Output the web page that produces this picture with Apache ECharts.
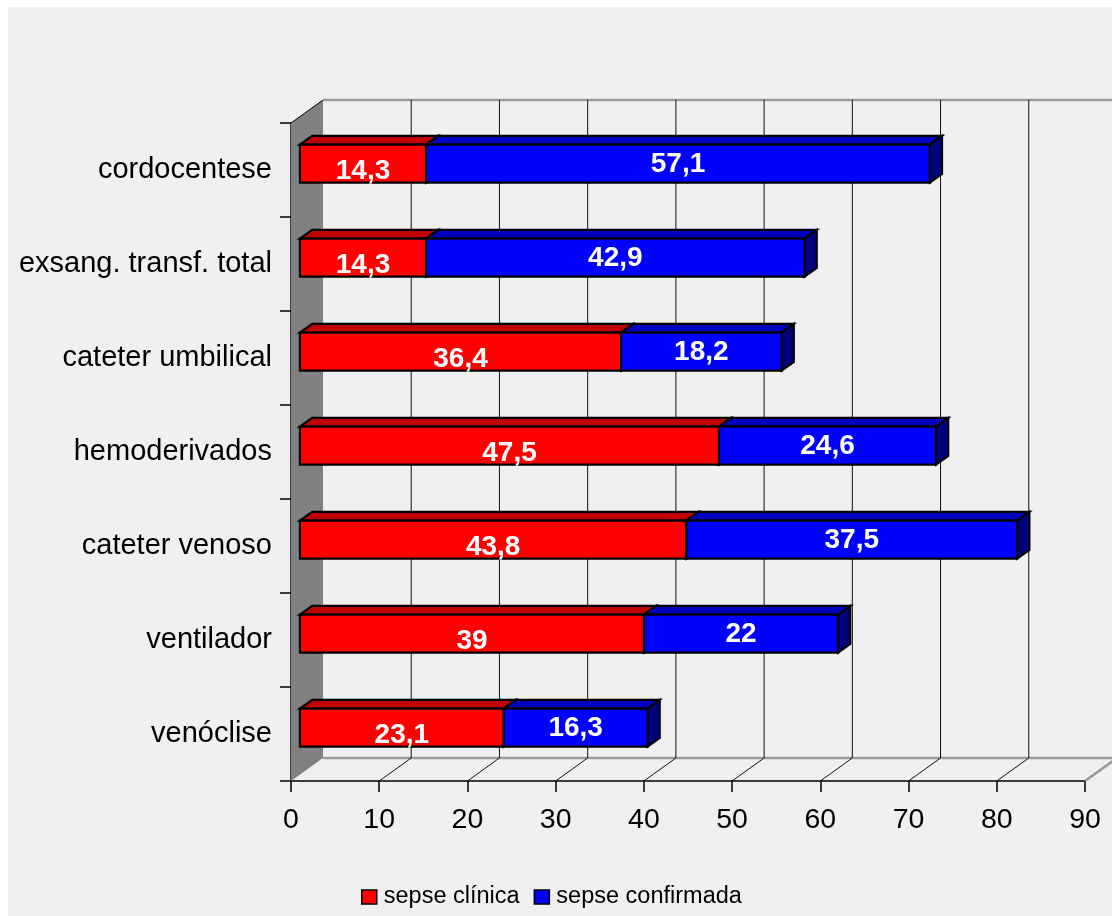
<!DOCTYPE html>
<html>
<head>
<meta charset="utf-8">
<title>Sepse por procedimento</title>
<script src="https://cdn.jsdelivr.net/npm/echarts@6/dist/echarts.min.js"></script>
<style>
  html, body { margin: 0; padding: 0; background: #ffffff; }
  #chart { width: 1112px; height: 916px; }
</style>
</head>
<body>
<div id="chart"></div>
<script>
// Procedures, top to bottom
const categories = [
  'cordocentese',
  'exsang. transf. total',
  'cateter umbilical',
  'hemoderivados',
  'cateter venoso',
  'ventilador',
  'venóclise'
];
// Percentages per procedure
const sepseClinica = [14.3, 14.3, 36.4, 47.5, 43.8, 39, 23.1];
const sepseConfirmada = [57.1, 42.9, 18.2, 24.6, 37.5, 22, 16.3];
// Value-axis ticks
const valueTicks = [0, 10, 20, 30, 40, 50, 60, 70, 80, 90];

const FONT = "'Liberation Sans', Arial, Helvetica, sans-serif";
// Depth of the box (pixels) and where the bars sit inside it
const DEPTH = { x: 32, y: -23 };
const BAR_FRONT = 0.28;
const BAR_BACK = 0.66;
const BAR_RATIO = 0.405;

const fmt = v => String(v).replace('.', ',');

function makeBarRenderer(face, top, side, labelDy) {
  return function (params, api) {
    const cat = api.value(0);
    const start = api.value(1);
    const end = api.value(2);
    const shown = api.value(3);
    const p0 = api.coord([start, cat]);
    const p1 = api.coord([end, cat]);
    const h = api.size([0, 1])[1] * BAR_RATIO;
    const fx = DEPTH.x * BAR_FRONT, fy = DEPTH.y * BAR_FRONT;
    const bx = DEPTH.x * BAR_BACK, by = DEPTH.y * BAR_BACK;
    const x0 = p0[0] + fx, x1 = p1[0] + fx;
    const yT = p0[1] + fy - h / 2;
    const dx = bx - fx, dy = by - fy;
    const stroke = { stroke: '#000', lineWidth: 2.2, lineJoin: 'miter' };
    return {
      type: 'group',
      children: [
        {
          type: 'polygon',
          shape: { points: [[x0, yT], [x1, yT], [x1 + dx, yT + dy], [x0 + dx, yT + dy]] },
          style: Object.assign({ fill: top }, stroke)
        },
        {
          type: 'polygon',
          shape: { points: [[x1, yT], [x1 + dx, yT + dy], [x1 + dx, yT + dy + h], [x1, yT + h]] },
          style: Object.assign({ fill: side }, stroke)
        },
        {
          type: 'rect',
          shape: { x: x0, y: yT, width: x1 - x0, height: h },
          style: Object.assign({ fill: face }, stroke)
        },
        {
          type: 'text',
          z2: 10,
          style: {
            text: fmt(shown),
            x: (x0 + x1) / 2,
            y: yT + h / 2 + labelDy,
            align: 'center',
            verticalAlign: 'middle',
            fill: '#ffffff',
            font: 'bold 28px ' + FONT
          }
        }
      ]
    };
  };
}

// Side wall, back wall grid and floor of the 3D box
function renderWalls(params, api) {
  const cs = params.coordSys;
  const L = cs.x, T = cs.y, R = cs.x + cs.width, B = cs.y + cs.height;
  const Dx = DEPTH.x, Dy = DEPTH.y;
  const children = [
    {
      type: 'polygon',
      shape: { points: [[L, T], [L + Dx, T + Dy], [L + Dx, B + Dy], [L, B]] },
      style: { fill: '#808080' }
    },
    {
      type: 'line',
      shape: { x1: L, y1: T, x2: L + Dx, y2: T + Dy },
      style: { stroke: '#000', lineWidth: 1 }
    },
    {
      type: 'line',
      shape: { x1: L + Dx, y1: T + Dy, x2: R + Dx, y2: T + Dy },
      style: { stroke: '#9a9a9a', lineWidth: 2.5 }
    },
    {
      type: 'line',
      shape: { x1: L + Dx, y1: B + Dy, x2: R + Dx, y2: B + Dy },
      style: { stroke: '#9a9a9a', lineWidth: 2.5 }
    },
    {
      type: 'line',
      shape: { x1: R, y1: B, x2: R + Dx, y2: B + Dy },
      style: { stroke: '#9a9a9a', lineWidth: 2.5 }
    }
  ];
  valueTicks.slice(1, -1).forEach(v => {
    const px = api.coord([v, 0])[0];
    children.push({
      type: 'line',
      shape: { x1: px + Dx, y1: T + Dy, x2: px + Dx, y2: B + Dy },
      style: { stroke: '#111', lineWidth: 1 }
    });
    children.push({
      type: 'line',
      shape: { x1: px + Dx, y1: B + Dy, x2: px, y2: B },
      style: { stroke: '#111', lineWidth: 1 }
    });
  });
  return { type: 'group', children };
}

// [category index, start, end, value shown]
const clinicaData = categories.map((c, i) => [i, 0, sepseClinica[i], sepseClinica[i]]);
const confirmadaData = categories.map((c, i) => [
  i, sepseClinica[i], sepseClinica[i] + sepseConfirmada[i], sepseConfirmada[i]
]);

const chart = echarts.init(document.getElementById('chart'), null, { renderer: 'canvas' });

chart.setOption({
  animation: false,
  backgroundColor: '#ffffff',
  graphic: [{
    type: 'rect',
    z: -10,
    shape: { x: 8, y: 7, width: 1104, height: 909 },
    style: { fill: '#f0f0f0' },
    silent: true
  }],
  grid: { left: 291, right: 27, top: 123, bottom: 135, containLabel: false },
  legend: {
    data: ['sepse clínica', 'sepse confirmada'],
    left: 356,
    top: 880,
    icon: 'rect',
    itemWidth: 15,
    itemHeight: 14,
    itemGap: 14,
    itemStyle: { borderColor: '#000', borderWidth: 1.5 },
    textStyle: { fontFamily: FONT, fontSize: 23.5, color: '#000', padding: [0, 0, 0, 2] }
  },
  xAxis: {
    type: 'value',
    min: 0,
    max: 90,
    interval: 10,
    axisLine: { show: true, lineStyle: { color: '#000', width: 1.5 } },
    axisTick: { show: true, length: 11, lineStyle: { color: '#000', width: 1.5 } },
    axisLabel: { fontFamily: FONT, fontSize: 28.5, color: '#000', margin: 25 },
    splitLine: { show: false }
  },
  yAxis: {
    type: 'category',
    data: categories,
    inverse: true,
    axisLine: { show: true, lineStyle: { color: '#000', width: 1.5 } },
    axisTick: { show: true, length: 11, lineStyle: { color: '#000', width: 1.5 } },
    axisLabel: { fontFamily: FONT, fontSize: 29, color: '#000', margin: 19 },
    splitLine: { show: false }
  },
  series: [
    {
      type: 'custom',
      name: 'walls',
      z: 1,
      silent: true,
      clip: false,
      renderItem: renderWalls,
      data: [[0, 0]]
    },
    {
      type: 'custom',
      name: 'sepse clínica',
      z: 3,
      clip: false,
      itemStyle: { color: '#ff0000' },
      renderItem: makeBarRenderer('#ff0000', '#c00000', '#800000', 8),
      encode: { x: [1, 2], y: 0 },
      data: clinicaData
    },
    {
      type: 'custom',
      name: 'sepse confirmada',
      z: 4,
      clip: false,
      itemStyle: { color: '#0000ff' },
      renderItem: makeBarRenderer('#0000ff', '#0000c0', '#000080', 1),
      encode: { x: [1, 2], y: 0 },
      data: confirmadaData
    }
  ]
});
</script>
</body>
</html>
